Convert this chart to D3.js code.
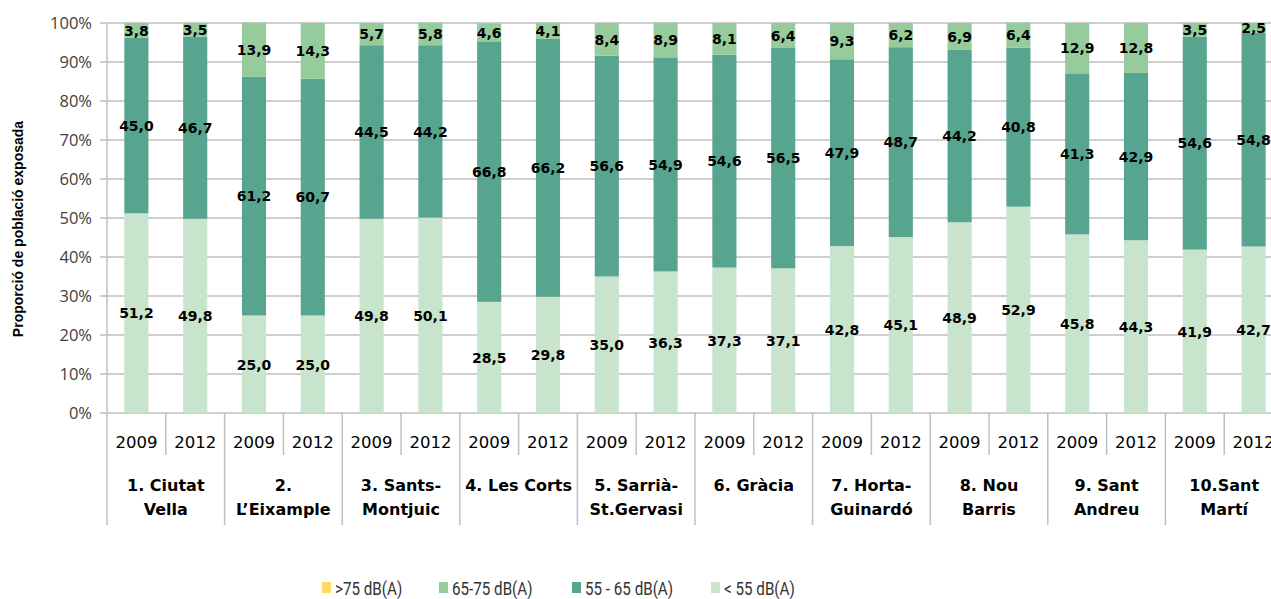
<!DOCTYPE html>
<html>
<head>
<meta charset="utf-8">
<script src="https://cdn.jsdelivr.net/npm/d3@7"></script>
<style>
    body { margin: 0; background: #fff; }
    svg { display: block; font-family: Roboto, "DejaVu Sans", sans-serif; }
    .grid line { stroke: #bfbfbf; stroke-width: 1.5; }
    .tick-label { fill: #404040; font-size: 16.5px; font-family: "Open Sans", Roboto, sans-serif; }
    .val { font-size: 14px; font-weight: bold; fill: #000; font-family: "DejaVu Sans", sans-serif; }
</style>
</head>
<body>
<div id="chart"></div>
<script>
// districts and years
let districts = [
    ['1. Ciutat', 'Vella'], ['2.', 'L\u2019Eixample'], ['3. Sants-', 'Montjuic'],
    ['4. Les Corts', ''], ['5. Sarrià-', 'St.Gervasi'], ['6. Gràcia', ''],
    ['7. Horta-', 'Guinardó'], ['8. Nou', 'Barris'], ['9. Sant', 'Andreu'],
    ['10.Sant', 'Martí']
];
let years = ['2009', '2012'];

// series, one value per bar (district x year)
let below55 = [51.2, 49.8, 25.0, 25.0, 49.8, 50.1, 28.5, 29.8, 35.0, 36.3,
               37.3, 37.1, 42.8, 45.1, 48.9, 52.9, 45.8, 44.3, 41.9, 42.7];
let from55to65 = [45.0, 46.7, 61.2, 60.7, 44.5, 44.2, 66.8, 66.2, 56.6, 54.9,
                  54.6, 56.5, 47.9, 48.7, 44.2, 40.8, 41.3, 42.9, 54.6, 54.8];
let from65to75 = [3.8, 3.5, 13.9, 14.3, 5.7, 5.8, 4.6, 4.1, 8.4, 8.9,
                  8.1, 6.4, 9.3, 6.2, 6.9, 6.4, 12.9, 12.8, 3.5, 2.5];
let above75 = [0, 0, 0, 0, 0, 0, 0, 0, 0, 0, 0, 0, 0, 0, 0, 0, 0, 0, 0, 0];

let seriesNames = ['< 55 dB(A)', '55 - 65 dB(A)', '65-75 dB(A)', '>75 dB(A)'];
let yTicks = [0, 10, 20, 30, 40, 50, 60, 70, 80, 90, 100];

let colors = {
    '< 55 dB(A)': '#c9e4cc',
    '55 - 65 dB(A)': '#57a48f',
    '65-75 dB(A)': '#96cc9c',
    '>75 dB(A)': '#ffd966'
};

let svgWidth = 1271, svgHeight = 599,
    margin = {top: 23, left: 107},
    plotBottom = 413,
    barStep = 58.8;

let rows = [];
districts.forEach((d, i) => years.forEach((y, j) => {
    let k = i * 2 + j;
    rows.push({
        key: k, district: i, year: y,
        '< 55 dB(A)': below55[k], '55 - 65 dB(A)': from55to65[k],
        '65-75 dB(A)': from65to75[k], '>75 dB(A)': above75[k]
    });
}));

let svg = d3.select('#chart').append('svg')
            .attr('width', svgWidth).attr('height', svgHeight);

let xScale = d3.scaleBand()
               .domain(rows.map(d => d.key))
               .range([margin.left, margin.left + barStep * rows.length])
               .paddingInner(0.59).paddingOuter(0.295);
let groupScale = d3.scaleBand()
                   .domain(d3.range(districts.length))
                   .range([margin.left, margin.left + barStep * rows.length]);
let yScale = d3.scaleLinear().domain([0, 100]).range([plotBottom, margin.top]);

// gridlines
svg.append('g').attr('class', 'grid')
   .selectAll('line').data(yTicks).enter().append('line')
   .attr('x1', margin.left - 7).attr('x2', svgWidth)
   .attr('y1', d => yScale(d)).attr('y2', d => yScale(d));
svg.append('line')
   .attr('x1', margin.left).attr('x2', margin.left)
   .attr('y1', margin.top).attr('y2', plotBottom)
   .attr('stroke', '#bfbfbf').attr('stroke-width', 1.5);

svg.append('g').selectAll('text').data(yTicks).enter().append('text')
   .attr('class', 'tick-label')
   .attr('x', margin.left - 15).attr('y', d => yScale(d))
   .attr('dy', '0.36em').attr('text-anchor', 'end')
   .text(d => d + '%');

svg.append('text')
   .attr('transform', `translate(23, ${yScale(50) + 11}) rotate(-90)`)
   .attr('text-anchor', 'middle')
   .attr('font-family', '"Liberation Sans", Arial, sans-serif')
   .attr('font-weight', 'bold').attr('font-size', 14)
   .text('Proporció de població exposada');

// stacked bars
let stacked = d3.stack().keys(seriesNames)(rows);
let layers = svg.append('g').selectAll('g').data(stacked).enter().append('g')
                .attr('fill', d => colors[d.key]);
layers.selectAll('rect').data(d => d).enter().append('rect')
      .attr('x', d => xScale(d.data.key))
      .attr('width', xScale.bandwidth())
      .attr('y', d => yScale(d[1]))
      .attr('height', d => yScale(d[0]) - yScale(d[1]));

// value labels
let labelLayers = stacked.filter(s => s.key !== '>75 dB(A)');
svg.append('g').selectAll('g').data(labelLayers).enter().append('g')
   .selectAll('text').data(d => d).enter().append('text')
   .attr('class', 'val')
   .attr('x', d => xScale(d.data.key) + xScale.bandwidth() / 2)
   .attr('y', d => yScale((d[0] + d[1]) / 2))
   .attr('dy', '0.38em').attr('text-anchor', 'middle')
   .text(d => d3.format('.1f')(d[1] - d[0]).replace('.', ','));

// category axis
let axis = svg.append('g');
let axisColor = '#bfbfbf';
axis.selectAll('line.year-sep').data(districts).enter().append('line')
    .attr('x1', (d, i) => groupScale(i) + groupScale.bandwidth() / 2)
    .attr('x2', (d, i) => groupScale(i) + groupScale.bandwidth() / 2)
    .attr('y1', plotBottom).attr('y2', plotBottom + 42)
    .attr('stroke', axisColor).attr('stroke-width', 1.5);
axis.selectAll('line.group-sep').data(d3.range(districts.length + 1)).enter().append('line')
    .attr('x1', i => margin.left + i * groupScale.bandwidth())
    .attr('x2', i => margin.left + i * groupScale.bandwidth())
    .attr('y1', plotBottom).attr('y2', plotBottom + 112)
    .attr('stroke', axisColor).attr('stroke-width', 1.5);

axis.selectAll('text.year').data(rows).enter().append('text')
    .attr('x', d => xScale(d.key) + xScale.bandwidth() / 2)
    .attr('y', plotBottom + 35)
    .attr('text-anchor', 'middle').attr('font-size', 16.5).attr('fill', '#000')
    .attr('font-family', '"DejaVu Sans", sans-serif')
    .text(d => d.year);

let distLabels = axis.selectAll('text.dist').data(districts).enter().append('text')
    .attr('x', (d, i) => groupScale(i) + groupScale.bandwidth() / 2)
    .attr('y', plotBottom + 78)
    .attr('text-anchor', 'middle').attr('font-size', 16)
    .attr('font-family', '"DejaVu Sans", sans-serif')
    .attr('font-weight', 'bold').attr('fill', '#000');
distLabels.append('tspan').text(d => d[0]);
distLabels.append('tspan')
    .attr('x', (d, i) => groupScale(i) + groupScale.bandwidth() / 2)
    .attr('dy', 24).text(d => d[1]);

// legend
let legendItems = ['>75 dB(A)', '65-75 dB(A)', '55 - 65 dB(A)', '< 55 dB(A)'];
let legendX = [322, 439, 572, 711];
let legend = svg.append('g').selectAll('g').data(legendItems).enter().append('g')
                .attr('transform', (d, i) => `translate(${legendX[i]}, 588)`);
legend.append('rect').attr('x', 0).attr('y', -6).attr('width', 9).attr('height', 11)
      .attr('fill', d => colors[d]);
legend.append('text')
      .attr('transform', 'translate(13, 0) scale(0.8, 1)')
      .attr('dy', '0.36em')
      .attr('font-size', 19).attr('fill', '#333')
      .text(d => d);
</script>
</body>
</html>
